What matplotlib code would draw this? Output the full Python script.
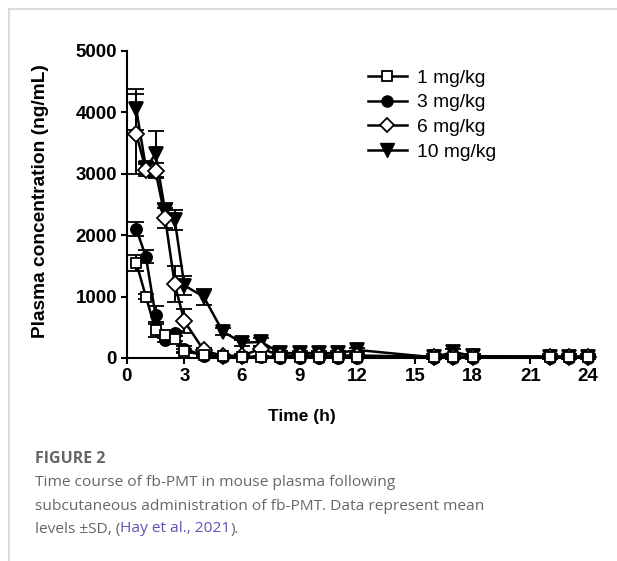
import matplotlib.pyplot as plt
from matplotlib.lines import Line2D

# time points (h)
time = [0.5, 1, 1.5, 2, 2.5, 3, 4, 5, 6, 7, 8, 9, 10, 11, 12, 16, 17, 18, 22, 23, 24]

# mean plasma concentration (ng/mL) and SD per dose
mg1 = [1550, 1000, 460, 370, 310, 110, 50, 35, 20, 20, 20, 20, 20, 20, 20, 20, 20, 20, 20, 20, 20]
mg1_sd = [130, 40, 120, 40, 40, 30, 20, 10, 10, 10, 10, 10, 10, 10, 10, 40, 40, 40, 40, 40, 40]
mg3 = [2100, 1650, 700, 300, 400, 150, 40, 10, 10, 10, 5, 5, 5, 5, 5, 5, 5, 5, 5, 5, 5]
mg3_sd = [110, 110, 150, 40, 40, 50, 20, 10, 10, 10, 5, 5, 5, 5, 5, 5, 5, 5, 5, 5, 5]
mg6 = [3650, 3060, 3050, 2280, 1200, 600, 130, 30, 40, 150, 40, 40, 40, 40, 40, 20, 20, 20, 20, 20, 20]
mg6_sd = [650, 100, 120, 170, 290, 200, 40, 10, 20, 40, 20, 20, 20, 20, 20, 20, 20, 20, 20, 20, 20]
mg10 = [4050, 3100, 3320, 2400, 2250, 1180, 1000, 430, 250, 260, 80, 80, 80, 80, 130, 10, 100, 30, 20, 20, 20]
mg10_sd = [330, 100, 370, 120, 160, 150, 130, 60, 50, 60, 30, 30, 30, 30, 40, 10, 40, 20, 10, 10, 10]

labels = ['1 mg/kg', '3 mg/kg', '6 mg/kg', '10 mg/kg']
x_ticks = [0, 3, 6, 9, 12, 15, 18, 21, 24]
y_ticks = [0, 1000, 2000, 3000, 4000, 5000]

plt.rcParams['font.family'] = ['Liberation Sans', 'DejaVu Sans']

fig = plt.figure(figsize=(6.17, 5.61), dpi=100)
ax = fig.add_axes([0.2053, 0.3619, 0.7477, 0.5472])

series = [
    (mg10, mg10_sd, 'v', 'black', 9.5, 1),
    (mg6, mg6_sd, 'D', 'white', 8, 2),
    (mg3, mg3_sd, 'o', 'black', 8, 3),
    (mg1, mg1_sd, 's', 'white', 7.8, 4),
]
for vals, sd, mk, fc, ms, z in series:
    ax.errorbar(time, vals, yerr=sd, fmt='-', marker=mk, color='black',
                mfc=fc, mec='black', mew=1.3, ms=ms, lw=1.8, elinewidth=1.4,
                capsize=6, capthick=1.4, zorder=z, clip_on=False)

ax.set_xlim(0, 24)
ax.set_ylim(0, 5000)
ax.set_xticks(x_ticks)
ax.set_yticks(y_ticks)
for s in ['top', 'right']:
    ax.spines[s].set_visible(False)
for s in ['left', 'bottom']:
    ax.spines[s].set_linewidth(1.5)
ax.tick_params(direction='out', length=4, width=1.5, pad=3, labelsize=13.5)
for t in ax.get_xticklabels() + ax.get_yticklabels():
    t.set_fontweight('bold')

fig.text(302 / 617, 1 - 417 / 561, 'Time (h)', ha='center', va='center',
         fontsize=12.5, fontweight='bold')
fig.text(41 / 617, 1 - 201 / 561, 'Plasma concentration (ng/mL)', rotation=90,
         ha='center', va='center', fontsize=13.8, fontweight='bold')

handles = [
    Line2D([], [], color='black', lw=1.8, marker='s', mfc='white', mec='black', mew=1.3, ms=7.5),
    Line2D([], [], color='black', lw=1.8, marker='o', mfc='black', mec='black', ms=8),
    Line2D([], [], color='black', lw=1.8, marker='D', mfc='white', mec='black', mew=1.3, ms=7.5),
    Line2D([], [], color='black', lw=1.8, marker='v', mfc='black', mec='black', ms=9.5),
]
fig.legend(handles, labels, loc='upper left', bbox_to_anchor=(368 / 617, 1 - 69 / 561),
           frameon=False, fontsize=13.9, handlelength=2.0, handletextpad=0.55,
           labelspacing=0.38, borderaxespad=0, borderpad=0)

# page frame lines
fig.add_artist(Line2D([9 / 617, 1], [1 - 9 / 561, 1 - 9 / 561], color='#d4d4d4', lw=1.2))
fig.add_artist(Line2D([9 / 617, 9 / 617], [0, 1 - 9 / 561], color='#d4d4d4', lw=1.2))

# caption
cap_font = ['Open Sans', 'DejaVu Sans']
gray = '#666666'
fig.text(35 / 617, 1 - 459 / 561, 'FIGURE 2', fontsize=11.5, fontweight='bold',
         color=gray, family=cap_font, va='center')
fig.text(35 / 617, 1 - 483 / 561, 'Time course of fb-PMT in mouse plasma following',
         fontsize=11.15, color=gray, family=cap_font, va='center')
fig.text(35 / 617, 1 - 506 / 561, 'subcutaneous administration of fb-PMT. Data represent mean',
         fontsize=11.15, color=gray, family=cap_font, va='center')
t1 = fig.text(35 / 617, 1 - 529 / 561, 'levels \u00b1SD, (', fontsize=11.15, color=gray,
              family=cap_font, va='center')
fig.canvas.draw()
bb = t1.get_window_extent()
t2 = fig.text(bb.x1 / fig.bbox.width, 1 - 529 / 561, 'Hay et al., 2021', fontsize=11.15,
              color='#5b55b5', family=cap_font, va='center')
fig.canvas.draw()
bb = t2.get_window_extent()
fig.text(bb.x1 / fig.bbox.width, 1 - 529 / 561, ').', fontsize=11.15, color=gray,
         family=cap_font, va='center')

fig.savefig('out.png', dpi=100)
